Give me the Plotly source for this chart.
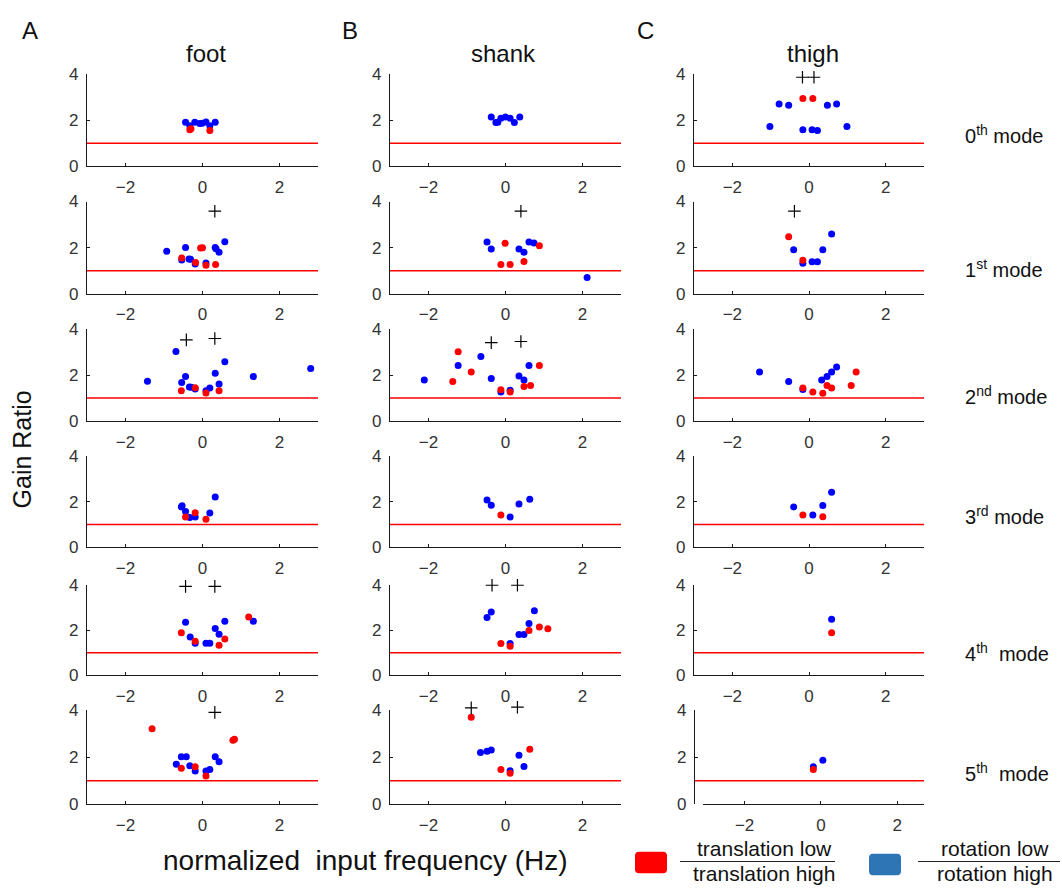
import plotly.graph_objects as go

# ---- labels -------------------------------------------------------------
SEGMENTS = ["foot", "shank", "thigh"]
PANEL_LETTERS = ["A", "B", "C"]
MODES = ["0<sup>th</sup> mode", "1<sup>st</sup> mode", "2<sup>nd</sup> mode",
         "3<sup>rd</sup> mode", "4<sup>th</sup>  mode", "5<sup>th</sup>  mode"]
X_TICKS = [-2, 0, 2]
Y_TICKS = [0, 2, 4]
REFERENCE_GAIN = 1.0

# ---- gain ratios: (normalized input frequency, gain ratio) per mode ------
foot_translation = [
    [(-0.33, 1.59), (-0.30, 1.63), (0.19, 1.56)],
    [(-0.54, 1.55), (-0.18, 1.36), (-0.05, 1.99), (0.00, 2.00), (0.09, 1.24), (0.34, 1.27)],
    [(-0.55, 1.32), (-0.19, 1.45), (0.09, 1.22), (0.43, 1.32)],
    [(-0.44, 1.33), (-0.19, 1.51), (0.09, 1.23)],
    [(-0.55, 1.89), (-0.19, 1.51), (0.43, 1.34), (0.58, 1.61), (1.20, 2.60)],
    [(-1.31, 3.22), (-0.55, 1.53), (-0.19, 1.59), (0.09, 1.20), (0.79, 2.73), (0.83, 2.77)],
]
foot_rotation = [
    [(-0.44, 1.91), (-0.33, 1.76), (-0.20, 1.91), (-0.07, 1.86), (-0.01, 1.87),
     (0.09, 1.93), (0.19, 1.76), (0.33, 1.91)],
    [(-0.93, 1.85), (-0.44, 2.01), (-0.54, 1.47), (-0.35, 1.51), (-0.31, 1.50),
     (-0.19, 1.29), (0.09, 1.34), (0.33, 2.01), (0.35, 1.95), (0.43, 1.80), (0.58, 2.26)],
    [(-1.43, 1.74), (-0.69, 3.03), (-0.54, 1.68), (-0.44, 1.94), (-0.34, 1.49),
     (-0.29, 1.47), (-0.19, 1.40), (0.09, 1.32), (0.19, 1.44), (0.33, 2.08),
     (0.43, 1.62), (0.58, 2.59), (1.32, 1.94), (2.81, 2.29)],
    [(-0.55, 1.77), (-0.53, 1.82), (-0.44, 1.57), (-0.33, 1.31), (-0.19, 1.33),
     (0.19, 1.50), (0.33, 2.20)],
    [(-0.44, 2.36), (-0.32, 1.70), (-0.19, 1.43), (0.09, 1.43), (0.19, 1.43),
     (0.33, 2.08), (0.43, 1.83), (0.58, 2.41), (1.32, 2.41)],
    [(-0.68, 1.70), (-0.55, 2.02), (-0.42, 2.02), (-0.33, 1.64), (-0.19, 1.41),
     (0.09, 1.41), (0.19, 1.48), (0.33, 2.02), (0.43, 1.81)],
]
foot_outliers = [
    [],
    [(0.32, 3.58)],
    [(-0.42, 3.54), (0.32, 3.60)],
    [],
    [(-0.44, 3.96), (0.32, 3.96)],
    [(0.32, 3.92)],
]

shank_translation = [
    [],
    [(-0.01, 2.19), (-0.12, 1.27), (0.12, 1.27), (0.48, 1.40), (0.88, 2.08)],
    [(-1.37, 1.72), (-1.23, 3.02), (-0.89, 2.14), (-0.12, 1.37), (0.12, 1.27),
     (0.48, 1.51), (0.65, 1.55), (0.88, 2.42)],
    [(-0.12, 1.41)],
    [(-0.12, 1.41), (0.12, 1.29), (0.61, 1.99), (0.88, 2.15), (1.10, 2.07)],
    [(-0.89, 3.71), (-0.12, 1.48), (0.12, 1.32), (0.63, 2.34)],
]
shank_rotation = [
    [(-0.37, 2.14), (-0.25, 1.90), (-0.20, 1.91), (-0.12, 2.09), (0.00, 2.14),
     (0.12, 2.09), (0.23, 1.90), (0.37, 2.14)],
    [(-0.48, 2.25), (-0.37, 1.94), (0.35, 1.94), (0.48, 1.80), (0.61, 2.25),
     (0.74, 2.20), (2.12, 0.71)],
    [(-2.11, 1.79), (-1.23, 2.42), (-0.64, 2.82), (-0.37, 1.86), (-0.12, 1.27),
     (0.12, 1.34), (0.35, 1.96), (0.48, 1.79), (0.61, 2.42)],
    [(-0.48, 2.07), (-0.37, 1.84), (0.12, 1.33), (0.35, 1.90), (0.63, 2.11)],
    [(-0.48, 2.57), (-0.37, 2.82), (0.12, 1.41), (0.35, 1.82), (0.48, 1.82),
     (0.61, 2.31), (0.75, 2.87)],
    [(-0.65, 2.20), (-0.48, 2.26), (-0.37, 2.31), (0.12, 1.42), (0.35, 2.09), (0.48, 1.60)],
]
shank_outliers = [
    [],
    [(0.40, 3.58)],
    [(-0.37, 3.42), (0.40, 3.47)],
    [],
    [(-0.35, 4.01), (0.31, 4.01)],
    [(-0.89, 4.11), (0.31, 4.14)],
]

thigh_translation = [
    [(-0.16, 2.95), (0.10, 2.95)],
    [(-0.53, 2.47), (-0.16, 1.46)],
    [(-0.16, 1.44), (0.10, 1.27), (0.36, 1.21), (0.47, 1.55), (0.59, 1.44),
     (1.10, 1.55), (1.23, 2.14)],
    [(-0.16, 1.41), (0.36, 1.34)],
    [(0.59, 1.89)],
    [(-0.20, 1.48)],
]
thigh_rotation = [
    [(-1.02, 1.73), (-0.78, 2.71), (-0.53, 2.65), (-0.16, 1.59), (0.08, 1.59),
     (0.22, 1.56), (0.48, 2.65), (0.72, 2.71), (0.99, 1.73)],
    [(-0.40, 1.91), (-0.16, 1.33), (0.08, 1.39), (0.22, 1.39), (0.36, 1.91), (0.59, 2.59)],
    [(-1.29, 2.14), (-0.53, 1.72), (-0.16, 1.38), (0.33, 1.79), (0.47, 1.94),
     (0.59, 2.14), (0.72, 2.36)],
    [(-0.40, 1.77), (0.10, 1.41), (0.36, 1.83), (0.59, 2.41)],
    [(0.59, 2.50)],
    [(-0.20, 1.59), (0.05, 1.87)],
]
thigh_outliers = [
    [(-0.17, 3.87), (0.13, 3.87)],
    [(-0.38, 3.58)],
    [], [], [], [],
]

translation = [foot_translation, shank_translation, thigh_translation]
rotation = [foot_rotation, shank_rotation, thigh_rotation]
outliers = [foot_outliers, shank_outliers, thigh_outliers]

# ---- page geometry (pixels) ---------------------------------------------
W, H = 1062, 894
COL_LEFT = [87, 390, 694]
COL_RIGHT = [318, 621, 924]
ROW_TOP = [66.7, 196.7, 327.3, 456.7, 589.0, 716.7]
ROW_BOTTOM = [160.7, 291.0, 421.0, 550.0, 680.7, 812.3]
FLAG_HEADROOM = 24  # px above each panel where outlier flags may sit

RED = "#ff0000"
BLUE = "#0000ff"
LEGEND_BLUE = "#2e75b6"
FONT = "Liberation Sans, Arial, sans-serif"
TEXT = "#111111"


def px_x(p):
    return p / W


def px_y(p):
    return 1 - p / H


fig = go.Figure()
shapes = []
annotations = []

for r in range(6):
    for c in range(3):
        idx = r * 3 + c + 1
        xa = "x" if idx == 1 else f"x{idx}"
        ya = "y" if idx == 1 else f"y{idx}"
        xkey = "xaxis" if idx == 1 else f"xaxis{idx}"
        ykey = "yaxis" if idx == 1 else f"yaxis{idx}"

        axis_common = dict(
            showline=True, linecolor="#1a1a1a", linewidth=1.3,
            ticks="inside", ticklen=3, tickcolor="#1a1a1a", tickwidth=1,
            showgrid=False, zeroline=False, fixedrange=True,
            tickfont=dict(family=FONT, size=17, color="#333333"),
        )

        # the last thigh panel has its frequency axis detached from the gain axis
        detached = (r == 5 and c == 2)
        x_left = 703 if detached else COL_LEFT[c]
        xrange = [-3.09, 2.70] if detached else [-3, 3]

        fig.layout[xkey] = dict(
            domain=[px_x(x_left), px_x(COL_RIGHT[c])],
            range=xrange, tickvals=X_TICKS, anchor=ya,
            ticklabelstandoff=5, **axis_common,
        )
        yaxis_cfg = dict(
            domain=[px_y(ROW_BOTTOM[r]), px_y(ROW_TOP[r])],
            range=[0, 4], tickvals=Y_TICKS,
            ticklabelstandoff=4, **axis_common,
        )
        if detached:
            yaxis_cfg.update(anchor="free", position=px_x(COL_LEFT[c]))
        else:
            yaxis_cfg.update(anchor=xa)
        fig.layout[ykey] = yaxis_cfg

        # reference line at a gain ratio of one, spanning the panel width
        shapes.append(dict(
            type="line", xref="paper", yref=ya,
            x0=px_x(COL_LEFT[c]), x1=px_x(COL_RIGHT[c]),
            y0=REFERENCE_GAIN, y1=REFERENCE_GAIN,
            line=dict(color=RED, width=1.5), layer="below",
        ))

        rot = rotation[c][r]
        if rot:
            fig.add_trace(go.Scatter(
                x=[p[0] for p in rot], y=[p[1] for p in rot], xaxis=xa, yaxis=ya,
                mode="markers", marker=dict(color=BLUE, size=7),
                showlegend=False, hoverinfo="skip",
            ))
        tr = translation[c][r]
        if tr:
            fig.add_trace(go.Scatter(
                x=[p[0] for p in tr], y=[p[1] for p in tr], xaxis=xa, yaxis=ya,
                mode="markers", marker=dict(color=RED, size=7),
                showlegend=False, hoverinfo="skip",
            ))

        # outlier flags live on a hidden gain axis with the same scale as the
        # panel but extra headroom, so flags just above 4 remain visible
        out = outliers[c][r]
        if out:
            fidx = 18 + idx
            fy = f"y{fidx}"
            height = ROW_BOTTOM[r] - ROW_TOP[r]
            fig.layout[f"yaxis{fidx}"] = dict(
                domain=[px_y(ROW_BOTTOM[r]), px_y(ROW_TOP[r] - FLAG_HEADROOM)],
                range=[0, 4 * (height + FLAG_HEADROOM) / height],
                anchor=xa, visible=False, fixedrange=True,
            )
            fig.add_trace(go.Scatter(
                x=[p[0] for p in out], y=[p[1] for p in out], xaxis=xa, yaxis=fy,
                mode="markers",
                marker=dict(symbol="cross-thin", size=9, color="black",
                            line=dict(color="black", width=1.2)),
                showlegend=False, hoverinfo="skip",
            ))

# ---- titles and labels --------------------------------------------------
title_x = [206, 503, 813]
letter_x = [30, 350, 645]
for c in range(3):
    annotations.append(dict(text=SEGMENTS[c], x=px_x(title_x[c]), y=px_y(45),
                            xref="paper", yref="paper", showarrow=False,
                            font=dict(family=FONT, size=24, color=TEXT),
                            xanchor="center", yanchor="middle"))
    annotations.append(dict(text=PANEL_LETTERS[c], x=px_x(letter_x[c]), y=px_y(22),
                            xref="paper", yref="paper", showarrow=False,
                            font=dict(family=FONT, size=24, color=TEXT),
                            xanchor="center", yanchor="middle"))

mode_y = [128, 265, 395, 518, 657, 780]
for r in range(6):
    annotations.append(dict(text=MODES[r], x=px_x(963), y=px_y(mode_y[r]),
                            xref="paper", yref="paper", showarrow=False,
                            font=dict(family=FONT, size=20, color=TEXT),
                            xanchor="left", yanchor="middle"))

annotations.append(dict(text="Gain Ratio", x=px_x(22), y=px_y(450),
                        xref="paper", yref="paper", showarrow=False, textangle=-90,
                        font=dict(family=FONT, size=25, color=TEXT),
                        xanchor="center", yanchor="middle"))
annotations.append(dict(text="normalized  input frequency (Hz)", x=px_x(365), y=px_y(870),
                        xref="paper", yref="paper", showarrow=False,
                        font=dict(family=FONT, size=28, color=TEXT),
                        xanchor="center", yanchor="middle"))


# ---- legend drawn as swatches with fraction labels ---------------------
def rounded_box(x0, y0, x1, y1, rad):
    X0, X1 = px_x(x0), px_x(x1)
    Y0, Y1 = px_y(y1), px_y(y0)
    rx, ry = rad / W, rad / H
    return (f"M {X0 + rx},{Y0} L {X1 - rx},{Y0} Q {X1},{Y0} {X1},{Y0 + ry} "
            f"L {X1},{Y1 - ry} Q {X1},{Y1} {X1 - rx},{Y1} L {X0 + rx},{Y1} "
            f"Q {X0},{Y1} {X0},{Y1 - ry} L {X0},{Y0 + ry} Q {X0},{Y0} {X0 + rx},{Y0} Z")


legend_items = [
    (RED, (635, 861, 667, 883), ("translation low", "translation high"), (680, 835), 764),
    (LEGEND_BLUE, (869, 863, 901, 885), ("rotation low", "rotation high"), (918, 1060), 995),
]
for color, (bx0, by0, bx1, by1), (num, den), (lx0, lx1), tx in legend_items:
    shapes.append(dict(type="path", xref="paper", yref="paper",
                       path=rounded_box(bx0, by0, bx1, by1, 4),
                       fillcolor=color, line=dict(width=0)))
    shapes.append(dict(type="line", xref="paper", yref="paper",
                       x0=px_x(lx0), x1=px_x(lx1), y0=px_y(871), y1=px_y(871),
                       line=dict(color="#222222", width=1.2)))
    annotations.append(dict(text=num, x=px_x(tx), y=px_y(858), xref="paper", yref="paper",
                            showarrow=False, xanchor="center", yanchor="middle",
                            font=dict(family=FONT, size=21, color=TEXT)))
    annotations.append(dict(text=den, x=px_x(tx), y=px_y(883), xref="paper", yref="paper",
                            showarrow=False, xanchor="center", yanchor="middle",
                            font=dict(family=FONT, size=21, color=TEXT)))

fig.update_layout(
    width=W, height=H,
    margin=dict(l=0, r=0, t=0, b=0),
    paper_bgcolor="white", plot_bgcolor="rgba(0,0,0,0)",
    shapes=shapes, annotations=annotations,
    showlegend=False,
)

fig.write_html(
    "out.html",
    post_script="document.body.style.margin='0px';document.body.style.overflow='hidden';",
)
